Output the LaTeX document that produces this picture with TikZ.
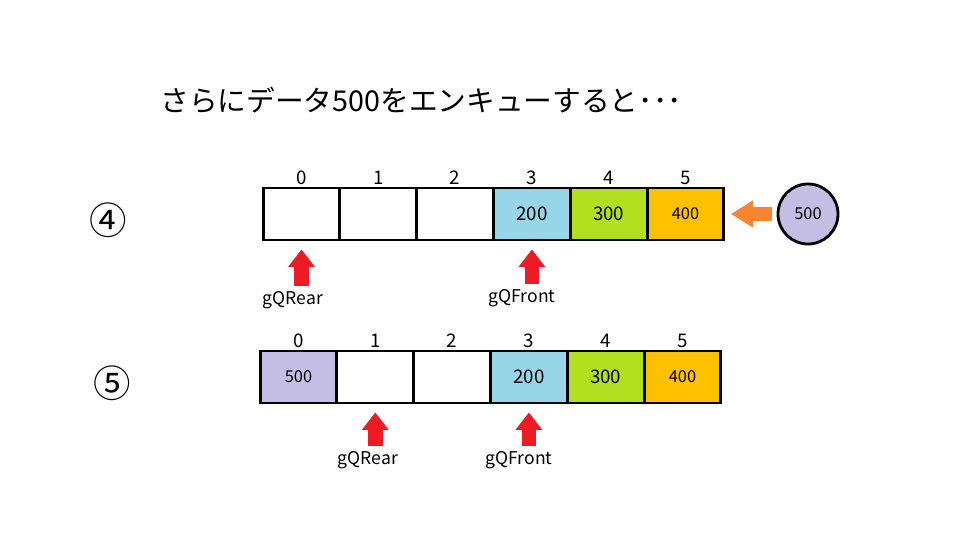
\documentclass[tikz,border=0pt]{standalone}
\usepackage{fontspec}
\setmainfont{Noto Sans CJK JP}
\usetikzlibrary{positioning, arrows.meta}
\definecolor{qblue}{RGB}{151,214,232}
\definecolor{qgreen}{RGB}{178,224,30}
\definecolor{qorange}{RGB}{255,192,0}
\definecolor{qpurple}{RGB}{197,190,228}
\definecolor{qred}{RGB}{237,28,36}
\definecolor{qarrow}{RGB}{247,133,49}

\begin{document}
\begin{tikzpicture}[x=0.03cm, y=-0.03cm,
	cell/.style={draw, line width=2.4pt, minimum width=2.3cm, minimum height=1.56cm, inner sep=0, outer sep=0},
	idx/.style={font=\fontsize{16}{16}\selectfont, inner sep=1pt},
	lbl/.style={font=\fontsize{15}{15}\selectfont},
	redarr/.style={-{Triangle[length=15pt, width=22pt]}, line width=12.5pt, qred, shorten <=1pt, shorten >=8pt}]
	\useasboundingbox (0,0) rectangle (960,540);
	\node (title) at (421,100) {\fontsize{24.5}{24.5}\selectfont さらにデータ500をエンキューすると･･･};
	% (4)
	\node[font=\fontsize{32}{32}\selectfont] (no4) at (108,220) {④};
	\foreach \i/\v/\c/\s in {0//white/16, 1//white/16, 2//white/16, 3/200/qblue/16, 4/300/qgreen/16, 5/400/qorange/14} {
		\node[cell, fill=\c, font=\fontsize{\s}{\s}\selectfont] (c4-\i) at (301.5+76.8*\i,214) {\v};
		\node[idx, above=2pt of c4-\i] (i4-\i) {\i};
	}
	\node[circle, draw, line width=2.4pt, fill=qpurple, minimum size=1.8cm, inner sep=0, font=\fontsize{14}{14}\selectfont] (d500) at (808,214) {500};
	\draw[-{Triangle[length=19pt, width=22pt]}, line width=12pt, qarrow, shorten <=4pt, shorten >=6pt] (d500) -- (c4-5);
	\node[lbl] (rear4) at (293,300) {gQRear};
	\node[lbl] (front4) at (522,298) {gQFront};
	\draw[redarr] (rear4.north -| c4-0) -- (c4-0.south);
	\draw[redarr] (front4.north -| c4-3) -- (c4-3.south);
	% (5)
	\node[font=\fontsize{32}{32}\selectfont] (no5) at (112,383) {⑤};
	\foreach \i/\v/\c/\s in {0/500/qpurple/14, 1//white/16, 2//white/16, 3/200/qblue/16, 4/300/qgreen/16, 5/400/qorange/14} {
		\node[cell, fill=\c, font=\fontsize{\s}{\s}\selectfont] (c5-\i) at (298.5+76.8*\i,377) {\v};
		\node[idx, above=2pt of c5-\i] (i5-\i) {\i};
	}
	\node[lbl] (rear5) at (368,460) {gQRear};
	\node[lbl] (front5) at (519,460) {gQFront};
	\draw[redarr] (rear5.north -| c5-1) -- (c5-1.south);
	\draw[redarr] (front5.north -| c5-3) -- (c5-3.south);
\end{tikzpicture}
\end{document}
